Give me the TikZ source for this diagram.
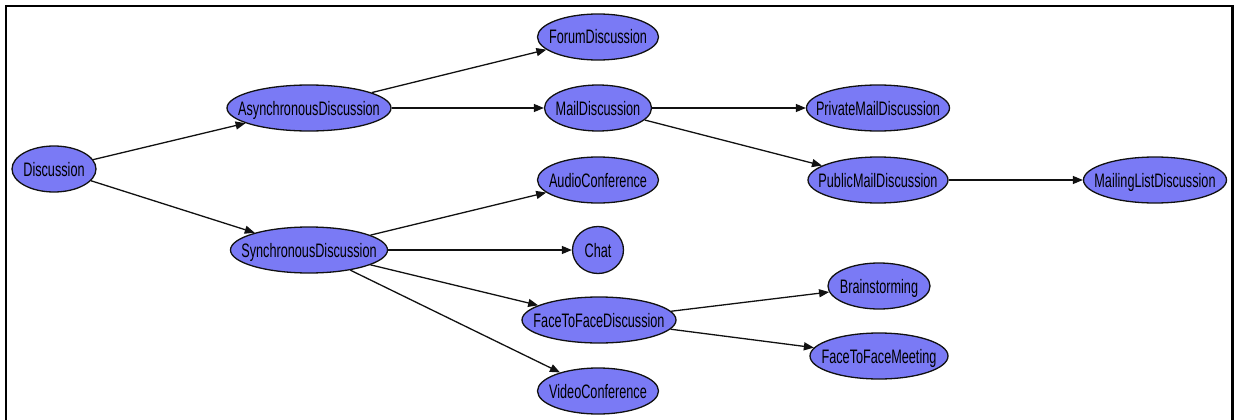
\documentclass[tikz,border=0pt]{standalone}
\usepackage{fontspec}
\setmainfont{Liberation Sans}[FakeStretch=0.65]
\usepackage{tikz}
\usetikzlibrary{arrows.meta,shapes.geometric}
\definecolor{classfill}{HTML}{7A7AF5}
\definecolor{edgeline}{HTML}{111111}
\tikzset{
  classnode/.style={ellipse, draw=edgeline, line width=1.3pt, fill=classfill,
    inner sep=0pt, minimum height=46pt, font=\fontsize{19.5}{22}\selectfont,
    text height=14pt, text depth=0pt,
    execute at begin node={\hbox to 0pt\bgroup\hss},
    execute at end node={\hss\egroup}},
  arr/.style={-{Triangle[length=10pt,width=8pt]}, line width=1.3pt, draw=edgeline}
}
\begin{document}
\begin{tikzpicture}[x=1pt,y=-1pt]
  \useasboundingbox (0,0) rectangle (1239,420);
  \draw[line width=2.5pt] (6,420) -- (6,6) -- (1232.5,6) -- (1232.5,420);

  \node[classnode, minimum width=84pt]  (disc)    at (54,169)   {Discussion};
  \node[classnode, minimum width=164pt] (async)   at (309,108)  {AsynchronousDiscussion};
  \node[classnode, minimum width=157pt] (sync)    at (309,250)  {SynchronousDiscussion};
  \node[classnode, minimum width=121pt] (forum)   at (598,37)   {ForumDiscussion};
  \node[classnode, minimum width=107pt] (mail)    at (598,108)  {MailDiscussion};
  \node[classnode, minimum width=121pt] (audio)   at (598,180)  {AudioConference};
  \node[classnode, minimum width=51pt, minimum height=47pt] (chat) at (598,250) {Chat};
  \node[classnode, minimum width=154pt] (f2f)     at (599,320)  {FaceToFaceDiscussion};
  \node[classnode, minimum width=121pt] (video)   at (598,391)  {VideoConference};
  \node[classnode, minimum width=143pt] (private) at (878,108)  {PrivateMailDiscussion};
  \node[classnode, minimum width=140pt] (public)  at (878,180)  {PublicMailDiscussion};
  \node[classnode, minimum width=102pt] (brain)   at (879,286)  {Brainstorming};
  \node[classnode, minimum width=138pt] (meeting) at (879,356)  {FaceToFaceMeeting};
  \node[classnode, minimum width=143pt] (mlist)   at (1155,180) {MailingListDiscussion};

  \draw[arr] (disc) -- (async);
  \draw[arr] (disc) -- (sync);
  \draw[arr] (async) -- (forum);
  \draw[arr] (async) -- (mail);
  \draw[arr] (mail) -- (private);
  \draw[arr] (mail) -- (public);
  \draw[arr] (public) -- (mlist);
  \draw[arr] (sync) -- (audio);
  \draw[arr] (sync) -- (chat);
  \draw[arr] (sync) -- (f2f);
  \draw[arr] (sync) -- (video);
  \draw[arr] (f2f) -- (brain);
  \draw[arr] (f2f) -- (meeting);
\end{tikzpicture}
\end{document}
